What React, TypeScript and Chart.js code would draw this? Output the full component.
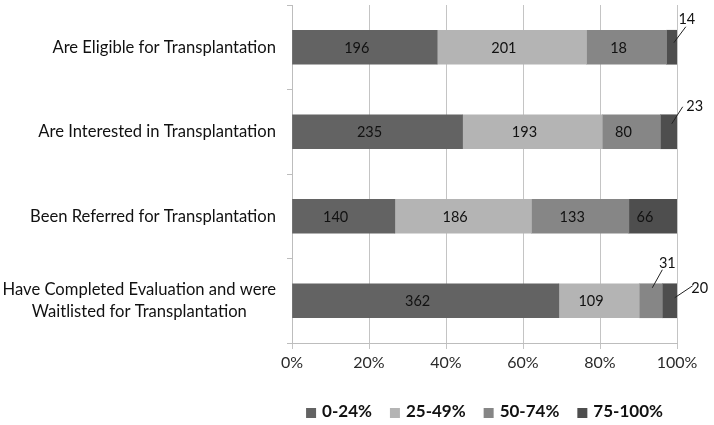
import { useEffect, useRef } from 'react';
import { Chart, registerables } from 'chart.js';

Chart.register(...registerables);

const categories: string[][] = [
  ['Are Eligible for Transplantation'],
  ['Are Interested in Transplantation'],
  ['Been Referred for Transplantation'],
  ['Have Completed Evaluation and were', 'Waitlisted for Transplantation'],
];
const seriesNames = ['0-24%', '25-49%', '50-74%', '75-100%'];

// bar widths (% of each row)
const pct0to24 = [37.7, 44.3, 26.7, 69.3];
const pct25to49 = [38.8, 36.3, 35.5, 20.9];
const pct50to74 = [20.8, 15.1, 25.3, 6.0];
const pct75to100 = [2.7, 4.3, 12.5, 3.8];

// data labels (counts) shown on the bars
const count0to24 = [196, 235, 140, 362];
const count25to49 = [201, 193, 186, 109];
const count50to74 = [18, 80, 133, 31];
const count75to100 = [14, 23, 66, 20];

const xTickValues = [0, 20, 40, 60, 80, 100];

const seriesColors = ['#636363', '#b4b4b4', '#868686', '#4e4e4e'];
const FONT = 'Lato, "DejaVu Sans", sans-serif';

// callouts for narrow segments: key "dataset-row", offsets from segment centre
const callouts: Record<string, { l: number[]; t: number[] }> = {
  '3-0': { l: [2, -4.5, 14, -20.5], t: [15, -28] },
  '3-1': { l: [3, -8, 14, -25], t: [26, -25] },
  '2-3': { l: [1.5, -13, 11.5, -31], t: [16.5, -37] },
  '3-3': { l: [5, -3, 23, -15], t: [30, -12] },
};

const labelPlugin = {
  id: 'valueLabels',
  afterDatasetsDraw(chart: any) {
    const ctx = chart.ctx;
    ctx.save();
    ctx.font = `14.5px ${FONT}`;
    ctx.fillStyle = '#111';
    ctx.strokeStyle = '#222';
    ctx.lineWidth = 1;
    ctx.textBaseline = 'middle';
    ctx.textAlign = 'center';
    chart.data.datasets.forEach((ds: any, di: number) => {
      const meta = chart.getDatasetMeta(di);
      meta.data.forEach((bar: any, ri: number) => {
        const left = Math.min(bar.base, bar.x);
        const right = Math.max(bar.base, bar.x);
        const cx = (left + right) / 2;
        const cy = bar.y;
        const text = String(ds.counts[ri]);
        const c = callouts[`${di}-${ri}`];
        if (c) {
          ctx.beginPath();
          ctx.moveTo(cx + c.l[0], cy + c.l[1]);
          ctx.lineTo(cx + c.l[2], cy + c.l[3]);
          ctx.stroke();
          ctx.fillText(text, cx + c.t[0], cy + c.t[1]);
        } else {
          ctx.fillText(text, cx - 8, cy + 1);
        }
      });
    });
    ctx.restore();
  },
};

const categoryPlugin = {
  id: 'categoryLabels',
  afterDraw(chart: any) {
    const ctx = chart.ctx;
    const yScale = chart.scales.y;
    const rightEdge = yScale.right - 16;
    ctx.save();
    ctx.font = `16.6px ${FONT}`;
    ctx.fillStyle = '#111';
    ctx.textAlign = 'center';
    ctx.textBaseline = 'middle';
    const lineH = 22;
    categories.forEach((lines, i) => {
      const y = yScale.getPixelForValue(i);
      const widest = Math.max(...lines.map((l) => ctx.measureText(l).width));
      const x = rightEdge - widest / 2;
      lines.forEach((line, li) => {
        ctx.fillText(line, x, y + (li - (lines.length - 1) / 2) * lineH);
      });
    });
    ctx.restore();
  },
};

const legendPlugin = {
  id: 'customLegend',
  afterDraw(chart: any) {
    const ctx = chart.ctx;
    const area = chart.chartArea;
    ctx.save();
    ctx.font = `bold 17px ${FONT}`;
    ctx.textBaseline = 'middle';
    ctx.textAlign = 'left';
    const box = 10;
    const gap = 6;
    const spacing = 18;
    const widths = seriesNames.map((n) => box + gap + ctx.measureText(n).width);
    const total = widths.reduce((a, b) => a + b, 0) + spacing * (seriesNames.length - 1);
    let x = (area.left + area.right) / 2 - total / 2;
    const y = 412;
    seriesNames.forEach((n, i) => {
      ctx.fillStyle = seriesColors[i];
      ctx.fillRect(x, y - 4, box, box);
      ctx.fillStyle = '#111';
      ctx.fillText(n, x + box + gap, y);
      x += widths[i] + spacing;
    });
    ctx.restore();
  },
};

export default function App() {
  const ref = useRef<HTMLCanvasElement | null>(null);
  useEffect(() => {
    document.body.style.margin = '0';
    const canvas = ref.current;
    if (!canvas) return;
    const seriesPct = [pct0to24, pct25to49, pct50to74, pct75to100];
    const seriesCounts = [count0to24, count25to49, count50to74, count75to100];
    const chart = new Chart(canvas, {
      type: 'bar',
      data: {
        labels: categories.map((c) => c.join(' ')),
        datasets: seriesNames.map((name, i) => ({
          label: name,
          data: seriesPct[i],
          counts: seriesCounts[i],
          backgroundColor: seriesColors[i],
          borderWidth: 0,
          barThickness: 34,
        })) as any,
      },
      options: {
        indexAxis: 'y',
        animation: false,
        responsive: true,
        maintainAspectRatio: false,
        layout: { padding: { top: 5, right: 37, bottom: 0, left: 0 } },
        plugins: {
          legend: { display: false },
          tooltip: { enabled: false },
        },
        scales: {
          x: {
            stacked: true,
            min: 0,
            max: 100,
            afterBuildTicks: (scale: any) => {
              scale.ticks = xTickValues.map((v) => ({ value: v }));
            },
            afterFit: (scale: any) => {
              scale.height = 82;
            },
            ticks: {
              callback: (v: any) => `${v}%`,
              font: { family: FONT, size: 16 },
              color: '#2a2a2a',
              padding: 4,
              maxRotation: 0,
            },
            grid: {
              color: '#c4c4c4',
              lineWidth: 1,
              tickLength: 6,
              drawTicks: true,
            },
            border: { color: '#bdbdbd' },
          },
          y: {
            stacked: true,
            afterFit: (scale: any) => {
              scale.width = 292;
            },
            ticks: { display: false },
            grid: {
              offset: true,
              drawOnChartArea: false,
              drawTicks: true,
              tickLength: 5,
              color: '#bdbdbd',
            },
            border: { color: '#bdbdbd' },
          },
        },
      } as any,
      plugins: [labelPlugin, categoryPlugin, legendPlugin],
    });
    return () => chart.destroy();
  }, []);
  return (
    <div style={{ position: 'absolute', left: 0, top: 0, width: 714, height: 425 }}>
      <canvas ref={ref} />
    </div>
  );
}
